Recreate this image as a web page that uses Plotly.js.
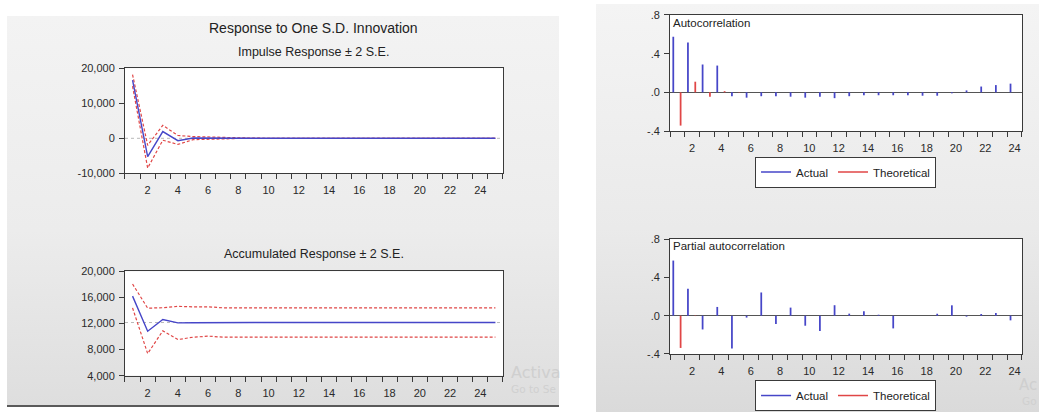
<!DOCTYPE html>
<html>
<head>
<meta charset="utf-8">
<script src="https://cdn.plot.ly/plotly-3.0.1.min.js"></script>
<style>
  html, body { margin:0; padding:0; background:#ffffff; width:1039px; height:412px; overflow:hidden; }
  #leftPanel { position:absolute; left:7px; top:16px; width:552px; height:389px;
    background:linear-gradient(#f3f3f3, #ececec 55%, #dedede); border-bottom:2px solid #5a5a5a; }
  #rightPanel { position:absolute; left:596px; top:4px; width:443px; height:408px;
    background:linear-gradient(#f4f4f4, #eaeaea 55%, #dadada); }
  #chart { position:absolute; left:0; top:0; width:1039px; height:412px; }
</style>
</head>
<body>
<div id="leftPanel"></div>
<div id="rightPanel"></div>
<div id="chart"></div>
<script>
// ---------- data ----------
const periods = [1,2,3,4,5,6,7,8,9,10,11,12,13,14,15,16,17,18,19,20,21,22,23,24,25];
const impulseResp  = [16600,-5220,1930,-680,80,100,30,10,0,0,0,0,0,0,0,0,0,0,0,0,0,0,0,0,0];
const impulseUpper = [18200,-2000,3700,800,500,350,150,80,30,10,0,0,0,0,0,0,0,0,0,0,0,0,0,0,0];
const impulseLower = [14900,-8500,-550,-1750,-400,-250,-120,-50,-20,0,0,0,0,0,0,0,0,0,0,0,0,0,0,0,0];

const accumResp  = [16200,10820,12620,12100,12120,12150,12150,12150,12150,12150,12150,12150,12150,12150,12150,12150,12150,12150,12150,12150,12150,12150,12150,12150,12150];
const accumUpper = [18050,14350,14420,14620,14560,14560,14400,14380,14380,14380,14380,14380,14380,14380,14380,14380,14380,14380,14380,14380,14380,14380,14380,14380,14380];
const accumLower = [14400,7380,10870,9540,9900,10060,9900,9900,9900,9900,9900,9900,9900,9900,9900,9900,9900,9900,9900,9900,9900,9900,9900,9900,9900];
const impulseRefLevel = 0;
const accumRefLevel = 12150;

const lags = [1,2,3,4,5,6,7,8,9,10,11,12,13,14,15,16,17,18,19,20,21,22,23,24];
const acfActual = [0.575,0.516,0.288,0.277,-0.04,-0.055,-0.04,-0.04,-0.045,-0.055,-0.045,-0.06,-0.04,-0.03,-0.03,-0.03,-0.03,-0.035,-0.035,-0.01,0.02,0.06,0.075,0.09];
const acfTheoretical = [-0.344,0.11,-0.045,0.012,-0.004,0.001,0,0,0,0,0,0,0,0,0,0,0,0,0,0,0,0,0,0];
const pacfActual = [0.575,0.28,-0.144,0.091,-0.344,-0.02,0.242,-0.088,0.084,-0.105,-0.16,0.109,0.021,0.046,0.01,-0.133,0,0,0.02,0.108,-0.01,0.017,0.028,-0.049];
const pacfTheoretical = [-0.337,-0.004,-0.001,0,0,0,0,0,0,0,0,0,0,0,0,0,0,0,0,0,0,0,0,0];

const xTickVals = [2,4,6,8,10,12,14,16,18,20,22,24];
const irTickVals = [-10000,0,10000,20000];
const irTickText = ['-10,000','0','10,000','20,000'];
const accTickVals = [4000,8000,12000,16000,20000];
const accTickText = ['4,000','8,000','12,000','16,000','20,000'];
const corrTickVals = [-0.4,0,0.4,0.8];
const corrTickText = ['-.4','.0','.4','.8'];

// ---------- styles ----------
const BLUE = '#4646c8';
const RED = '#e04646';
const FONT = 'Liberation Sans, Arial, sans-serif';
const tickFont = {family: FONT, size: 11, color: '#2a2a2a'};

function xAx(domain, range, anchor) {
  return {domain, range, anchor, showline:true, mirror:true, linecolor:'#3a3a3a', linewidth:1,
    showgrid:false, zeroline:false, tickmode:'array', tickvals:xTickVals, ticks:'',
    ticklabelstandoff:7, tickfont:tickFont,
    minor:{ticks:'outside', tick0:0.5, dtick:1, ticklen:5, tickcolor:'#3a3a3a', showgrid:false}};
}
function yAx(domain, range, anchor, vals, text, zl) {
  return {domain, range, anchor, showline:true, mirror:true, linecolor:'#3a3a3a', linewidth:1,
    showgrid:false, zeroline: !!zl, zerolinecolor:'#555555', zerolinewidth:1,
    tickmode:'array', tickvals:vals, ticktext:text, ticks:'outside', ticklen:5, tickcolor:'#3a3a3a',
    ticklabelstandoff:2, tickfont:tickFont};
}

const dashRed = {color:RED, width:1.2, dash:'3px,2px'};
const traces = [
  {x:periods, y:impulseUpper, xaxis:'x', yaxis:'y', mode:'lines', line:dashRed, showlegend:false, hoverinfo:'skip'},
  {x:periods, y:impulseLower, xaxis:'x', yaxis:'y', mode:'lines', line:dashRed, showlegend:false, hoverinfo:'skip'},
  {x:periods, y:impulseResp, xaxis:'x', yaxis:'y', mode:'lines', line:{color:BLUE, width:1.4}, showlegend:false},
  {x:periods, y:accumUpper, xaxis:'x2', yaxis:'y2', mode:'lines', line:dashRed, showlegend:false, hoverinfo:'skip'},
  {x:periods, y:accumLower, xaxis:'x2', yaxis:'y2', mode:'lines', line:dashRed, showlegend:false, hoverinfo:'skip'},
  {x:periods, y:accumResp, xaxis:'x2', yaxis:'y2', mode:'lines', line:{color:BLUE, width:1.4}, showlegend:false},

  {type:'bar', x:lags, y:acfActual, xaxis:'x3', yaxis:'y3', width:0.12, offset:-0.34, marker:{color:BLUE, line:{width:0}}, showlegend:false},
  {type:'bar', x:lags, y:acfTheoretical, xaxis:'x3', yaxis:'y3', width:0.12, offset:0.16, marker:{color:RED, line:{width:0}}, showlegend:false},
  {type:'bar', x:lags, y:pacfActual, xaxis:'x4', yaxis:'y4', width:0.12, offset:-0.34, marker:{color:BLUE, line:{width:0}}, showlegend:false},
  {type:'bar', x:lags, y:pacfTheoretical, xaxis:'x4', yaxis:'y4', width:0.12, offset:0.16, marker:{color:RED, line:{width:0}}, showlegend:false},

  // legend entries
  {x:[null], y:[null], xaxis:'x3', yaxis:'y3', mode:'lines', name:'Actual', line:{color:BLUE, width:1.5}, legend:'legend'},
  {x:[null], y:[null], xaxis:'x3', yaxis:'y3', mode:'lines', name:'Theoretical', line:{color:RED, width:1.5}, legend:'legend'},
  {x:[null], y:[null], xaxis:'x4', yaxis:'y4', mode:'lines', name:'Actual', line:{color:BLUE, width:1.5}, legend:'legend2'},
  {x:[null], y:[null], xaxis:'x4', yaxis:'y4', mode:'lines', name:'Theoretical', line:{color:RED, width:1.5}, legend:'legend2'}
];

const legendStyle = {orientation:'h', xanchor:'center', yanchor:'middle', bgcolor:'#ffffff',
  bordercolor:'#3a3a3a', borderwidth:1, font:{family:FONT, size:11.5, color:'#222222'},
  itemwidth:30, tracegroupgap:0, traceorder:'normal'};

const layout = {
  width:1039, height:412, margin:{l:0, r:0, t:0, b:0},
  paper_bgcolor:'rgba(0,0,0,0)', plot_bgcolor:'#ffffff',
  barmode:'overlay', showlegend:true,
  legend: Object.assign({x:0.8138, y:0.5825}, legendStyle),
  legend2: Object.assign({x:0.8138, y:0.040}, legendStyle),
  xaxis: xAx([0.1203,0.4841],[0.5,25.5],'y'),
  yaxis: yAx([0.5794,0.8342],[-10000,20000],'x', irTickVals, irTickText),
  xaxis2: xAx([0.1203,0.4841],[0.5,25.5],'y2'),
  yaxis2: yAx([0.0881,0.3415],[4000,20000],'x2', accTickVals, accTickText),
  xaxis3: xAx([0.6449,0.9836],[0.5,24.5],'y3'),
  yaxis3: yAx([0.682,0.9636],[-0.4,0.8],'x3', corrTickVals, corrTickText, true),
  xaxis4: xAx([0.6449,0.9836],[0.5,24.5],'y4'),
  yaxis4: yAx([0.1408,0.4199],[-0.4,0.8],'x4', corrTickVals, corrTickText, true),
  shapes: [
    {type:'line', xref:'x domain', yref:'y', x0:0, x1:1, y0:impulseRefLevel, y1:impulseRefLevel,
      line:{color:'#b8b8b8', width:1, dash:'dot'}, layer:'below'},
    {type:'line', xref:'x2 domain', yref:'y2', x0:0, x1:1, y0:accumRefLevel, y1:accumRefLevel,
      line:{color:'#b8b8b8', width:1, dash:'dot'}, layer:'below'}
  ],
  annotations: [
    {text:'Response to One S.D. Innovation', xref:'paper', yref:'paper', x:0.302, y:1-28/412,
      showarrow:false, xanchor:'center', yanchor:'middle', font:{family:FONT, size:14, color:'#222222'}},
    {text:'Impulse Response ± 2 S.E.', xref:'paper', yref:'paper', x:0.302, y:1-52/412,
      showarrow:false, xanchor:'center', yanchor:'middle', font:{family:FONT, size:12.5, color:'#222222'}},
    {text:'Accumulated Response ± 2 S.E.', xref:'paper', yref:'paper', x:0.302, y:1-254/412,
      showarrow:false, xanchor:'center', yanchor:'middle', font:{family:FONT, size:12.5, color:'#222222'}},
    {text:'Autocorrelation', xref:'x3 domain', yref:'paper', x:0.002, y:1-22.5/412,
      showarrow:false, xanchor:'left', yanchor:'middle', font:{family:FONT, size:11.5, color:'#222222'}},
    {text:'Partial autocorrelation', xref:'x4 domain', yref:'paper', x:0.002, y:1-245.5/412,
      showarrow:false, xanchor:'left', yanchor:'middle', font:{family:FONT, size:11.5, color:'#222222'}},
    {text:'Activa', xref:'paper', yref:'paper', x:509/1039, y:1-372/412, showarrow:false,
      xanchor:'left', yanchor:'middle', font:{family:'DejaVu Sans, sans-serif', size:16, color:'#cfcfcf'}},
    {text:'Go to Se', xref:'paper', yref:'paper', x:509/1039, y:1-389/412, showarrow:false,
      xanchor:'left', yanchor:'middle', font:{family:'DejaVu Sans, sans-serif', size:10.5, color:'#d0d0d0'}},
    {text:'Ac', xref:'paper', yref:'paper', x:1, y:1-385/412, showarrow:false,
      xanchor:'right', yanchor:'middle', font:{family:'DejaVu Sans, sans-serif', size:15, color:'#cfcfcf'}},
    {text:'Go', xref:'paper', yref:'paper', x:1, y:1-401/412, showarrow:false,
      xanchor:'right', yanchor:'middle', font:{family:'DejaVu Sans, sans-serif', size:10.5, color:'#d0d0d0'}}
  ]
};

Plotly.newPlot('chart', traces, layout, {staticPlot:true, displayModeBar:false});
</script>
</body>
</html>
